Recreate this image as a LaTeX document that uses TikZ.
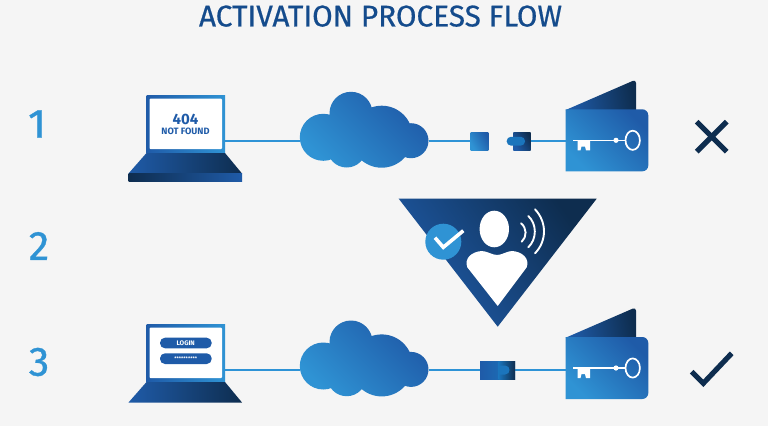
\documentclass[tikz,border=0pt]{standalone}
\usepackage{fontspec}
\setmainfont{Fira Sans}
\newfontfamily\semititle[FakeBold=0.6]{Fira Sans}
\newfontfamily\seminum[FakeBold=0.9]{Fira Sans}
\usetikzlibrary{shapes.geometric}
\definecolor{bgc}{HTML}{F5F5F5}
\definecolor{lineblue}{HTML}{2E93D6}
\definecolor{lightb}{HTML}{2F93D4}
\definecolor{midb}{HTML}{1B75BC}
\definecolor{deepb}{HTML}{1F5BA8}
\definecolor{navy}{HTML}{0E2D4F}
\definecolor{titleb}{HTML}{144B8C}
\tikzset{
  wire/.style={draw=lineblue,line width=2.3pt},
  bluegrad/.style={left color=lightb,middle color=midb,right color=deepb,shading angle=135},
  darkgrad/.style={left color=deepb,right color=navy,shading angle=120},
  numeral/.style={text=lightb,inner sep=0pt},
  anchorbox/.style={inner sep=0pt,outer sep=0pt,minimum width=0pt,minimum height=0pt},
  mark stroke/.style={draw=navy,line width=5.2pt},
  whitetext/.style={text=white,inner sep=0pt,font=\bfseries},
  bluetext/.style={text=deepb,inner sep=0pt,font=\bfseries},
}
\newcommand{\mycloud}{%
  \shade[bluegrad] (323.3,137.3) circle [radius=23.5pt]
    (351,113.3) circle [radius=21.5pt]
    (381.7,136.7) circle [radius=31pt]
    (411,140.7) circle [radius=17.5pt]
    (346.7,148) circle [radius=19.5pt]
    (355,135) circle [radius=24pt];
}
\newcommand{\mywallet}{%
  \shade[left color=deepb,right color=navy,shading angle=100]
    (565.7,110) [rounded corners=3.5pt] -- (636,79.5) [sharp corners] -- (636,110) -- cycle;
  \shade[bluegrad] (565.7,109.3) [rounded corners=6pt] -- (648.3,109.3) -- (648.3,171.3) [sharp corners] -- (565.7,171.3) -- cycle;
  \draw[white,line width=1.5pt] (573.3,140.3) -- (625.5,140.3);
  \fill[white] (616,140.3) circle [radius=2.6pt];
  \draw[white,line width=1.7pt] (632.7,140.3) ellipse [x radius=7.2pt,y radius=9.6pt];
  \fill[white] (577.7,141) -- (590,141) -- (590,150.3) -- (586,150.3) -- (585,146.5) -- (581.5,146.5) -- (580.5,150.3) -- (577.7,150.3) -- cycle;
}
\begin{document}
\begin{tikzpicture}[x=1pt,y=-1pt]
\useasboundingbox (0,0) rectangle (768,426);
\fill[bgc] (0,0) rectangle (768,426);
% title
\node[anchor=south,inner sep=0pt,text=titleb] (title) at (380.5,27)
  {\resizebox{363pt}{21pt}{\semititle ACTIVATION PROCESS FLOW}};
% numerals
\node[numeral,font=\seminum\fontsize{41}{41}\selectfont] (n1) at (37,124) {1};
\node[numeral,font=\seminum\fontsize{41}{41}\selectfont] (n2) at (39,246) {2};
\node[numeral,font=\seminum\fontsize{41}{41}\selectfont] (n3) at (39,362) {3};

% ---- row 1 anchors
\coordinate (lapA) at (225,141);
\coordinate (cloudAw) at (300,141);
\coordinate (cloudAe) at (429,141);
\node[anchorbox,minimum width=17.6pt,minimum height=18pt,left color=lightb,right color=deepb,shading angle=120] (sqA) at (479.5,141) {};
\node[anchorbox,minimum width=17.4pt,minimum height=18pt,darkgrad] (plugA) at (522,141) {};
\coordinate (walletA) at (566,141);
\draw[wire] (lapA) -- (cloudAw);
\draw[wire] (cloudAe) -- (sqA.west);
\draw[wire] (plugA.east) -- (walletA);
\fill[midb,rounded corners=4.2pt] (506.7,136.8) rectangle (525,145.6);

% laptop 1
\shade[left color=deepb,right color=lightb] (146.5,95.7) rectangle (225,153);
\fill[white,rounded corners=1pt] (149.5,98.5) rectangle (222,149);
\shade[left color=deepb,right color=navy] (146.5,153) -- (225,153) -- (242,173.5) -- (128.5,173.5) -- cycle;
\shade[left color=navy,right color=deepb] (128.5,173.5) rectangle (242,181);
\node[bluetext,font=\bfseries\fontsize{15}{15}\selectfont] (t404) at (185.5,119.5) {404};
\node[bluetext,font=\bfseries\fontsize{9.2}{9.2}\selectfont] (tnf) at (185.5,131.8) {NOT FOUND};

\mycloud
\mywallet
% cross
\draw[mark stroke] (696.7,121.7) -- (726.7,151.7);
\draw[mark stroke] (726.7,121.7) -- (696.7,151.7);

% triangle
\shade[left color=deepb,right color=navy,shading angle=125] (398.7,198.7) -- (596.7,198.7) -- (497.7,326.7) -- cycle;
\fill[lightb] (443.3,241.7) circle [radius=18pt];
\draw[white,line width=3.6pt] (435,237.7) -- (443.3,247.3) -- (463.3,230.7);
\fill[white] (494.3,229) ellipse [x radius=14.7pt,y radius=18.3pt];
\fill[white] (497.7,306) -- (467.3,267.3) .. controls (464,258.3) and (471.7,251.7) .. (481.7,251)
  .. controls (487,251) and (492,255) .. (497.2,255) .. controls (502,255) and (507,251) .. (512.2,251)
  .. controls (522,251.7) and (530,258.3) .. (526.7,267.3) -- cycle;
\draw[white,line width=1.9pt,line cap=round] (521,223.3) .. controls (527,228) and (527,237) .. (521.7,241.7);
\draw[white,line width=1.9pt,line cap=round] (528.3,216) .. controls (537,224) and (537,239) .. (528.3,247.3);
\draw[white,line width=1.9pt,line cap=round] (535,209.3) .. controls (547,222) and (547,241) .. (535,253.3);

% ---- row 3
\coordinate (lapB) at (225,370);
\coordinate (cloudBw) at (300,370);
\coordinate (cloudBe) at (429,370);
\node[anchorbox,minimum width=35pt,minimum height=18pt,left color=deepb,right color=midb] (plugB) at (497.5,370) {};
\coordinate (walletB) at (566,370);
\draw[wire] (lapB) -- (cloudBw);
\draw[wire] (cloudBe) -- (plugB.west);
\draw[wire] (plugB.east) -- (walletB);
\shade[left color=midb,right color=navy] (498.5,361) rectangle (515,379);
\fill[midb] (498.5,365.5) -- (505,365.5) .. controls (511,365.5) and (511,374.5) .. (505,374.5) -- (498.5,374.5) -- cycle;

\begin{scope}[shift={(0,229)}]
\shade[left color=deepb,right color=lightb] (146.5,95.7) rectangle (225,153);
\fill[white,rounded corners=1pt] (149.5,98.5) rectangle (222,149);
\shade[left color=deepb,right color=navy] (146.5,153) -- (225,153) -- (242,173.5) -- (128.5,173.5) -- cycle;
\fill[deepb,rounded corners=5pt] (160,108.7) rectangle (211.7,119.3);
\fill[deepb,rounded corners=5pt] (160,124.3) rectangle (211.7,135);
\node[whitetext,font=\bfseries\fontsize{6.6}{7}\selectfont] (tlogin) at (185.7,114) {LOGIN};
\node[whitetext,font=\bfseries\fontsize{5}{5}\selectfont] (tstars) at (185.7,129.5) {**********};
\end{scope}
\begin{scope}[shift={(0,228.7)}]
\mycloud
\end{scope}
\begin{scope}[shift={(0,227.7)}]
\mywallet
\end{scope}
% tick
\draw[mark stroke] (691.7,371.7) -- (703.3,383.3) -- (731.7,353.3);
\end{tikzpicture}
\end{document}
